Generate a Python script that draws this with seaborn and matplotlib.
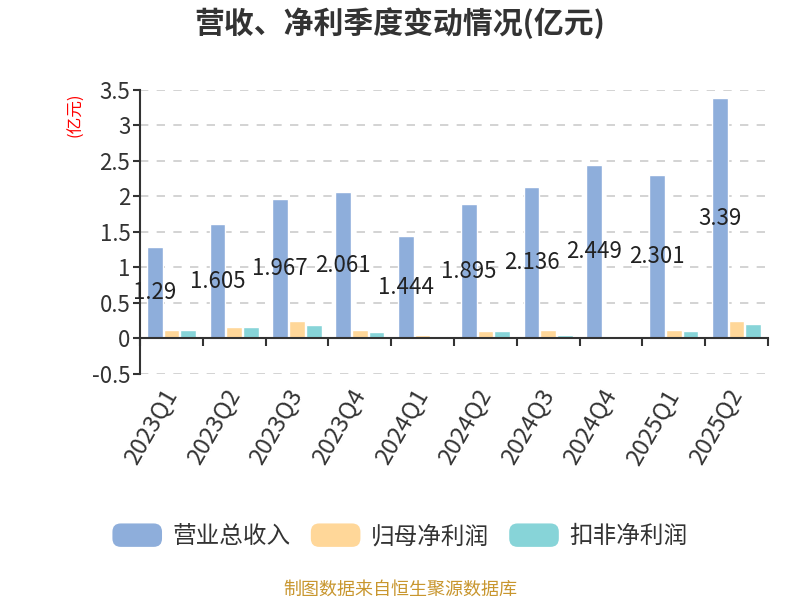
import pandas as pd
import matplotlib
matplotlib.use("Agg")
import matplotlib.pyplot as plt
import seaborn as sns
from matplotlib.patches import Patch, FancyBboxPatch
from matplotlib.legend_handler import HandlerPatch

# data
quarters = ["2023Q1", "2023Q2", "2023Q3", "2023Q4", "2024Q1",
            "2024Q2", "2024Q3", "2024Q4", "2025Q1", "2025Q2"]
revenue = [1.29, 1.605, 1.967, 2.061, 1.444, 1.895, 2.136, 2.449, 2.301, 3.39]
net_profit = [0.117, 0.164, 0.238, 0.12, 0.042, 0.107, 0.117, 0.037, 0.117, 0.238]
net_profit_adj = [0.117, 0.16, 0.187, 0.093, 0.033, 0.103, 0.05, 0.004, 0.103, 0.2]
series_names = ["营业总收入", "归母净利润", "扣非净利润"]
colors = ["#8eaedb", "#ffd799", "#87d4d8"]
y_ticks = [-0.5, 0, 0.5, 1, 1.5, 2, 2.5, 3, 3.5]

df = pd.DataFrame({
    "quarter": quarters * 3,
    "series": [n for n in series_names for _ in quarters],
    "value": revenue + net_profit + net_profit_adj,
})

sns.set_theme(style="white")
plt.rcParams["font.family"] = ["Noto Sans CJK SC", "DejaVu Sans"]
plt.rcParams["axes.unicode_minus"] = False

fig = plt.figure(figsize=(8, 6), dpi=100)
ax = fig.add_axes([0.175, 0.377, 0.785, 0.473])

sns.barplot(data=df, x="quarter", y="value", hue="series", order=quarters,
            hue_order=series_names, palette=colors, width=0.8, gap=0.06,
            saturation=1, legend=False, ax=ax)

ax.set_ylim(-0.5, 3.5)
ax.set_xlim(-0.5, len(quarters) - 0.5)
ax.set_yticks(y_ticks)
ax.set_yticklabels([f"{t:g}" for t in y_ticks], fontsize=16, color="#333333")
ax.grid(axis="y", color="#cccccc", linestyle=(0, (5, 5)), linewidth=1.2)
ax.set_axisbelow(True)
ax.set_xlabel("")
ax.set_ylabel("")

for s in ["top", "right"]:
    ax.spines[s].set_visible(False)
ax.spines["left"].set_color("#333333")
ax.spines["left"].set_linewidth(1.5)
ax.spines["bottom"].set_position(("data", 0))
ax.spines["bottom"].set_color("#333333")
ax.spines["bottom"].set_linewidth(1.5)
ax.tick_params(axis="y", which="major", direction="out", length=5, width=1.5,
               color="#333333", left=True, pad=2)

# boundary ticks on the zero line, labels at category centres
ax.set_xticks([i - 0.5 for i in range(len(quarters) + 1)])
ax.set_xticklabels([])
ax.tick_params(axis="x", which="major", direction="out", length=6, width=1.5,
               color="#333333", bottom=True)
ax.set_xticks(range(len(quarters)), minor=True)
ax.set_xticklabels(quarters, minor=True, fontsize=17, color="#333333")
ax.tick_params(axis="x", which="minor", length=0, pad=38)
for lbl in ax.get_xticklabels(minor=True):
    lbl.set_rotation(60)
    lbl.set_ha("right")
    lbl.set_va("center")
    lbl.set_rotation_mode("anchor")

# value labels on revenue bars
rev_bars = ax.containers[0]
for bar, v in zip(rev_bars, revenue):
    ax.text(bar.get_x() + bar.get_width() / 2, v / 2, f"{v:g}",
            ha="center", va="center", fontsize=16, color="#222222")

ax.text(-0.103, 0.99, "(亿元)", transform=ax.transAxes, rotation=90,
        ha="center", va="top", fontsize=12, color="red")

fig.text(0.5, 0.962, "营收、净利季度变动情况(亿元)", ha="center", va="center",
         fontsize=21.5, fontweight="bold", color="#333333")


class RoundHandler(HandlerPatch):
    def create_artists(self, legend, orig_handle, xdescent, ydescent,
                       width, height, fontsize, trans):
        p = FancyBboxPatch((-xdescent, -ydescent), width, height,
                           boxstyle="round,pad=0,rounding_size=6",
                           facecolor=orig_handle.get_facecolor(),
                           edgecolor="none", transform=trans)
        return [p]


handles = [Patch(facecolor=c, label=n) for c, n in zip(colors, series_names)]
fig.legend(handles=handles, loc="center", bbox_to_anchor=(0.5, 0.107), ncol=3,
           frameon=False, fontsize=17, handlelength=2.1, handleheight=1.15,
           handletextpad=0.45, columnspacing=0.85,
           handler_map={Patch: RoundHandler()}, labelcolor="#333333")

fig.text(0.5, 0.017, "制图数据来自恒生聚源数据库", ha="center", va="center",
         fontsize=13, color="#c8962e")

fig.savefig("out.png", dpi=100)
